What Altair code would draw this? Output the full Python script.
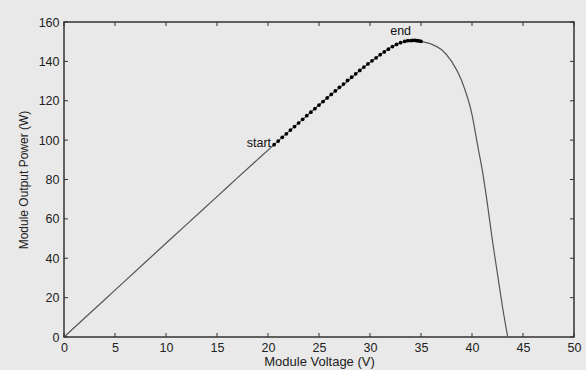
import altair as alt
import pandas as pd

# P-V curve of the module
curve_v = [0, 2, 5, 8, 10, 12, 15, 17, 19, 20.6, 22, 24, 26, 28, 29, 30, 31, 32, 33, 34,
           34.6, 35.2, 36, 37, 38, 39, 40, 40.6, 41, 41.5, 42, 42.5, 43, 43.5]
curve_p = [0, 9.5, 23.8, 38.1, 47.6, 57.1, 71.3, 80.8, 90.2, 97.7, 104.2, 113.3, 122.3, 130.8,
           135.4, 139.5, 143.4, 146.9, 149.5, 150.6, 150.5, 149.9, 148.8, 146, 140, 130, 113,
           96, 85, 68, 49, 32, 15, 0]

# MPPT operating points (dots)
dot_v = [20.6, 21.0, 21.4, 21.8, 22.2, 22.6, 23.0, 23.4, 23.8, 24.2, 24.6, 25.0, 25.4, 25.8,
         26.2, 26.6, 27.0, 27.4, 27.8, 28.2, 28.6, 29.0, 29.4, 29.8, 30.2, 30.6, 31.0, 31.4,
         31.8, 32.2, 32.6, 33.0, 33.4, 33.7, 34.0, 34.2, 34.4, 34.6, 34.8, 35.0]
dot_p = [97.7, 99.5, 101.4, 103.2, 105.1, 106.9, 108.7, 110.6, 112.4, 114.2, 116.0, 117.8,
         119.6, 121.4, 123.2, 125.0, 126.8, 128.5, 130.3, 132.0, 133.7, 135.4, 137.1, 138.7,
         140.3, 141.8, 143.4, 144.8, 146.2, 147.5, 148.6, 149.5, 150.1, 150.5, 150.6, 150.7,
         150.7, 150.5, 150.4, 150.2]

# annotations
start_label = ["start"]
start_v = [20.3]
start_p = [98.5]
end_label = ["end"]
end_v = [33.0]
end_p = [155.5]

x_ticks = [0, 5, 10, 15, 20, 25, 30, 35, 40, 45, 50]
y_ticks = [0, 20, 40, 60, 80, 100, 120, 140, 160]

W, H = 510, 315
FONT = "Liberation Sans"
BG = "#e9e9e9"

curve_df = pd.DataFrame({"v": curve_v, "p": curve_p})
dot_df = pd.DataFrame({"v": dot_v, "p": dot_p})
start_df = pd.DataFrame({"v": start_v, "p": start_p, "t": start_label})
end_df = pd.DataFrame({"v": end_v, "p": end_p, "t": end_label})
xt_df = pd.DataFrame({"v": x_ticks})
yt_df = pd.DataFrame({"p": y_ticks})

xscale = alt.Scale(domain=[0, 50], nice=False)
yscale = alt.Scale(domain=[0, 160], nice=False)

xaxis = alt.Axis(values=x_ticks, title="Module Voltage (V)", tickSize=0, domain=False,
                 grid=False, labelPadding=4, titlePadding=2, labelFontSize=12.5,
                 titleFontSize=13, labelColor="#222", titleColor="#222",
                 labelOverlap=False, labelBound=False, labelFlush=False,
                 labelFont=FONT, titleFont=FONT, titleFontWeight="normal")
yaxis = alt.Axis(values=y_ticks, title="Module Output Power (W)", tickSize=0, domain=False,
                 grid=False, labelPadding=5, titlePadding=8, labelFontSize=12.5,
                 titleFontSize=12, labelColor="#222", titleColor="#222",
                 labelOverlap=False, labelBound=False, labelFlush=False,
                 labelFont=FONT, titleFont=FONT, titleFontWeight="normal")

X = alt.X("v:Q", scale=xscale, axis=xaxis)
Y = alt.Y("p:Q", scale=yscale, axis=yaxis)

line = alt.Chart(curve_df).mark_line(color="#555555", strokeWidth=1.2,
                                     interpolate="monotone").encode(x=X, y=Y)

dots = alt.Chart(dot_df).mark_point(filled=True, color="#000000", size=14, opacity=1).encode(x=X, y=Y)

start_txt = alt.Chart(start_df).mark_text(align="right", baseline="middle", font=FONT,
                                          fontSize=12.5, color="#111").encode(x=X, y=Y, text="t:N")
end_txt = alt.Chart(end_df).mark_text(align="center", baseline="middle", font=FONT,
                                      fontSize=12.5, color="#111").encode(x=X, y=Y, text="t:N")

tk = dict(color="#333333", strokeWidth=1)
bt = alt.Chart(xt_df).mark_rule(**tk).encode(x=X, y=alt.value(H), y2=alt.value(H - 4))
tt = alt.Chart(xt_df).mark_rule(**tk).encode(x=X, y=alt.value(0), y2=alt.value(4))
lt = alt.Chart(yt_df).mark_rule(**tk).encode(y=Y, x=alt.value(0), x2=alt.value(4))
rt = alt.Chart(yt_df).mark_rule(**tk).encode(y=Y, x=alt.value(W), x2=alt.value(W - 4))

chart = alt.layer(line, dots, start_txt, end_txt, bt, tt, lt, rt).properties(
    width=W, height=H,
    autosize=alt.AutoSizeParams(type="none"),
    padding={"left": 64, "top": 22, "right": 12, "bottom": 33},
    background=BG,
).configure_view(stroke="#333333", strokeWidth=1.5, fill=BG)

chart.save("out.html", embed_options={"renderer": "svg", "actions": False})
